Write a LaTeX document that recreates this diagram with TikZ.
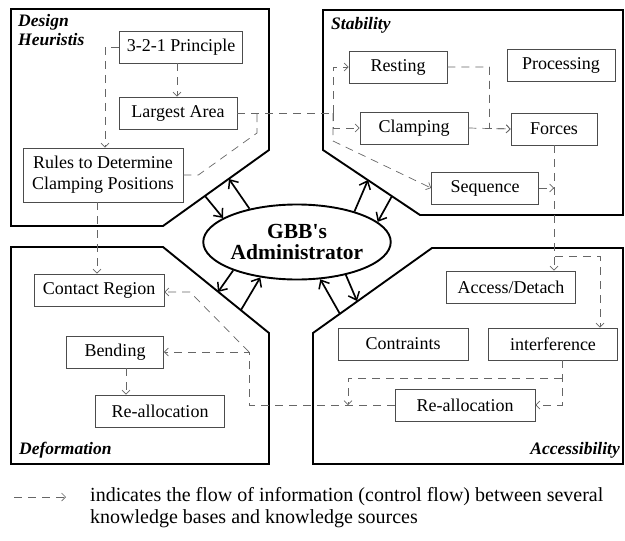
\documentclass[tikz,border=0pt]{standalone}
\usepackage{fontspec}
\setmainfont{Liberation Serif}[Ligatures=TeXOff]
\usetikzlibrary{arrows.meta,shapes.geometric,calc}

\begin{document}
\begin{tikzpicture}[
  x=1pt,y=-1pt,
  panel/.style={draw=black, line width=1.9pt, line join=miter},
  kb/.style={draw=black!70, line width=0.7pt, minimum height=32, inner sep=0pt, align=center, font=\fontsize{18}{21}\selectfont},
  admin/.style={ellipse, draw=black, line width=1.9pt, minimum width=186, minimum height=75, inner sep=0pt, align=center, font=\fontsize{21.5}{21}\selectfont\bfseries},
  label/.style={font=\fontsize{17.5}{19.5}\selectfont\bfseries\itshape, align=left, inner sep=0pt},
  legend/.style={font=\fontsize{20}{22}\selectfont, align=left, anchor=west, inner sep=0pt},
  flow/.style={draw=black!60, line width=0.7pt, dash pattern=on 8pt off 6pt, -{Straight Barb[length=4pt,width=8pt]}},
  flowline/.style={draw=black!60, line width=0.7pt, dash pattern=on 8pt off 6pt},
  link/.style={draw=black, line width=1.7pt, -{Straight Barb[length=7pt,width=12pt,line width=1.5pt]}}
]
\useasboundingbox (0,0) rectangle (625,541);

% ================= Panels =================
\draw[panel] (11,9) -- (269,9) -- (269,150) -- (163,226) -- (11,226) -- cycle;
\draw[panel] (323,10) -- (623,10) -- (623,215) -- (420,215) -- (323,150) -- cycle;
\draw[panel] (11,247) -- (163,247) -- (269,333) -- (269,464) -- (11,464) -- cycle;
\draw[panel] (313,333) -- (432,248) -- (623,248) -- (623,464) -- (313,464) -- cycle;

\node[label, anchor=north west] at (18,14) {Design\\Heuristis};
\node[label, anchor=west] at (331,25) {Stability};
\node[label, anchor=west] at (19,450) {Deformation};
\node[label, anchor=east] at (620,450) {Accessibility};

% ================= Administrator =================
\node[admin] (gbb) at (297,242) {GBB's\\Administrator};

% ================= Knowledge sources =================
\node[kb, minimum width=123] (pr321) at (181,47) {3-2-1 Principle};
\node[kb, minimum width=118] (larea) at (178,113) {Largest Area};
\node[kb, minimum width=160, minimum height=54] (rules) at (103,175) {Rules to Determine\\Clamping Positions};

\node[kb, minimum width=98] (resting) at (398,67) {Resting};
\node[kb, minimum width=108] (processing) at (561,65) {Processing};
\node[kb, minimum width=108] (clampS) at (414,128) {Clamping};
\node[kb, minimum width=86] (forces) at (554,129) {Forces};
\node[kb, minimum width=107] (sequence) at (485,188) {Sequence};

\node[kb, minimum width=130] (contact) at (99,290) {Contact Region};
\node[kb, minimum width=97] (bending) at (115,352) {Bending};
\node[kb, minimum width=129] (reallocD) at (160,411) {Re-allocation};

\node[kb, minimum width=129] (access) at (511,287) {Access/Detach};
\node[kb, minimum width=130] (constr) at (403,344) {Contraints};
\node[kb, minimum width=129] (interf) at (553,344) {interference};
\node[kb, minimum width=140] (reallocA) at (465,405) {Re-allocation};

% ================= Control flow =================
\coordinate (jn) at (257,113);
\coordinate (bus) at (333,113);
\coordinate (busbot) at (333,141);
\coordinate (acsplit) at (555,256);
\coordinate (ifsplit) at (562,378);
\coordinate (drop) at (348,405);
\coordinate (defjn) at (249,352);
\coordinate (defdiag) at (190,292);

\draw[flow] ([xshift=-4]pr321.south) -- ([xshift=-4]pr321.south |- larea.north);
\draw[flow] (pr321.west) -| ([xshift=2]rules.north);
\draw[flowline] (larea.east) -- (bus);
\draw[flowline] (rules.east) -- ++(15,0) -- ($(jn)+(0,20)$) -- (jn);
\draw[flow] (bus) |- (resting.west);
\draw[flow] (bus) |- (clampS.west);
\draw[flow] (bus) -- (busbot) -- (sequence.west);
\draw[flow] (resting.east) -| ($(clampS.east)!0.5!(forces.west)$) -- (forces.west);
\draw[flow] (clampS.east) -- (forces.west);
\draw[flow] (sequence.east) -- (sequence.east -| forces.south);
\draw[flow] (forces.south) -- (forces.south |- access.north);
\draw[flow] (acsplit) -| ([xshift=47]interf.north);
\draw[flow] ([xshift=9]interf.south) |- (reallocA.east);
\draw[flow] (ifsplit) -| (drop);
\draw[flow] (reallocA.west) -| (defjn) -- (bending.east);
\draw[flow] (defjn) -- (defdiag) -- (defdiag -| contact.east);
\draw[flow] ([xshift=-6]rules.south) -- ([xshift=-6]rules.south |- contact.north);
\draw[flow] ([xshift=11]bending.south) -- ([xshift=11]bending.south |- reallocD.north);

% ================= Administrator links =================
\coordinate (dhA) at (229,179);
\coordinate (dhB) at (205,196);
\coordinate (stA) at (368,180);
\coordinate (stB) at (392,196);
\coordinate (dfA) at (218,292);
\coordinate (dfB) at (241,310);
\coordinate (acA) at (340,314);
\coordinate (acB) at (357,301);

\draw[link] (gbb.145) -- (dhA);
\draw[link] (dhB) -- (gbb.162);
\draw[link] (gbb.28) -- (stA);
\draw[link] (stB) -- (gbb.14);
\draw[link] (gbb.204) -- (dfA);
\draw[link] (dfB) -- (gbb.224);
\draw[link] (acA) -- (gbb.302);
\draw[link] (gbb.326) -- (acB);

% ================= Legend =================
\coordinate (lgA) at (14,497);
\coordinate (lgB) at (66,497);
\draw[flow] (lgA) -- (lgB);
\node[legend] (lgtext) at (90,508) {indicates the flow of information (control flow) between several\\knowledge bases and knowledge sources};

\end{tikzpicture}
\end{document}
